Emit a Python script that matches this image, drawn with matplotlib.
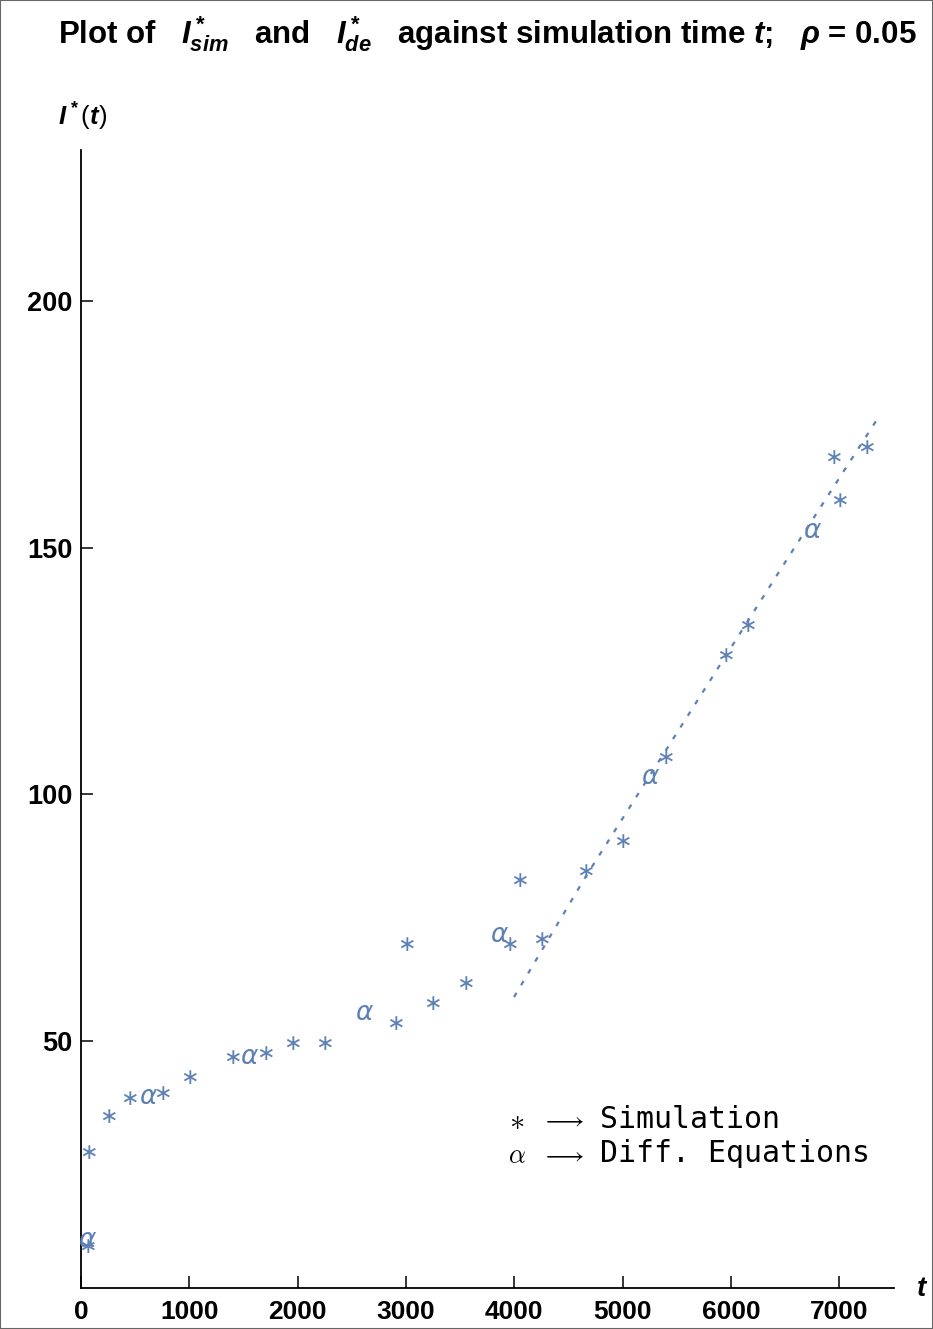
import matplotlib
matplotlib.use("Agg")
import matplotlib.pyplot as plt
from matplotlib.patches import Rectangle

plt.rcParams['font.family'] = ['Liberation Sans', 'DejaVu Sans']
plt.rcParams['mathtext.fontset'] = 'custom'
plt.rcParams['mathtext.rm'] = 'Liberation Sans:bold'
plt.rcParams['mathtext.it'] = 'Liberation Sans:bold:italic'
plt.rcParams['mathtext.bf'] = 'Liberation Sans:bold'

# ---- data ----
sim_t = [55, 65, 258, 443, 748, 997, 1394, 1699, 1948, 2243, 2899, 3000, 3240,
         3545, 3951, 4043, 4246, 4652, 4994, 5391, 5945, 6148, 6942, 6997, 7246]
sim_v = [8.2, 27.3, 34.6, 38.2, 39.2, 42.5, 46.5, 47.4, 49.4, 49.4, 53.5, 69.5, 57.5,
         61.6, 69.5, 82.5, 70.5, 84.3, 90.4, 107.4, 128.1, 134.2, 168.2, 159.5, 170.3]

de_t = [55, 618, 1551, 2612, 3858, 5252, 6748]
de_v = [9.7, 38.6, 46.8, 55.7, 71.5, 103.6, 153.5]

fit_t = [3997, 4652, 6526, 7376]
fit_v = [58.9, 83.1, 148.0, 177.0]

x_ticks = [0, 1000, 2000, 3000, 4000, 5000, 6000, 7000]
y_ticks = [50, 100, 150, 200]

blue = '#5E81B5'

fig = plt.figure(figsize=(9.33, 13.29), dpi=100)
ax = fig.add_axes([81/933, (1329-1287.5)/1329, 812.5/933, 1137.5/1329])
ax.set_xlim(0, 7500)
ax.set_ylim(0, 230.7)

for s in ['top', 'right']:
    ax.spines[s].set_visible(False)
for s in ['left', 'bottom']:
    ax.spines[s].set_linewidth(1.3)
    ax.spines[s].set_color('black')

ax.set_xticks(x_ticks)
ax.set_xticklabels([str(v) for v in x_ticks])
ax.set_yticks(y_ticks)
ax.set_yticklabels([str(v) for v in y_ticks])
ax.tick_params(direction='in', length=8.5, width=1.1, labelsize=19.5, pad=6)
ax.tick_params(axis='x', pad=9, labelsize=19)
for lab in ax.get_xticklabels() + ax.get_yticklabels():
    lab.set_fontweight('bold')

# fitted dashed line
ax.plot(fit_t, fit_v, linestyle=(0, (2.2, 4.0)), color=blue, lw=1.6)

# simulation points (asterisks)
for t, v in zip(sim_t, sim_v):
    ax.text(t, v, '\u2217', color=blue, fontsize=16, family='DejaVu Sans',
            ha='center', va='center')
# diff eq points (alpha)
for t, v in zip(de_t, de_v):
    ax.text(t, v, '\u03b1', color=blue, fontsize=19, family='DejaVu Sans',
            style='italic', ha='center', va='center')

# title
fig.text(487/933, 1 - 34/1329,
         r"Plot of   $I^*_{sim}$   and   $I^*_{de}$   against simulation time $t$;   $\rho$ = 0.05",
         ha='center', va='center', fontsize=22.5, fontweight='bold')

# axis labels
fig.text(58/933, 1 - 117/1329, r"$I^*$($t$)", ha='left', va='center', fontsize=18.5)
fig.text(922/933, 1 - 1289/1329, r"$t$", ha='center', va='center', fontsize=20)

# legend
mono = 'DejaVu Sans Mono'
fig.text(517/933, 1 - 1121/1329, r"$\ast$", math_fontfamily='cm', color='black',
         ha='center', va='center', fontsize=22)
fig.text(563/933, 1 - 1121/1329, r"$\longrightarrow$", math_fontfamily='cm', color='black',
         ha='center', va='center', fontsize=17.5)
fig.text(600/933, 1 - 1119/1329, "Simulation", family=mono, ha='left', va='center',
         fontsize=21.5)
fig.text(517/933, 1 - 1156/1329, r"$\alpha$", math_fontfamily='cm', color='black',
         ha='center', va='center', fontsize=19)
fig.text(563/933, 1 - 1156/1329, r"$\longrightarrow$", math_fontfamily='cm', color='black',
         ha='center', va='center', fontsize=17.5)
fig.text(600/933, 1 - 1154/1329, "Diff. Equations", family=mono, ha='left', va='center',
         fontsize=21.5)

# figure frame
fig.patches.append(Rectangle((0, 0), 1, 1, transform=fig.transFigure, fill=False,
                             edgecolor='#666666', lw=1.5))

fig.savefig('out.png', dpi=100)
